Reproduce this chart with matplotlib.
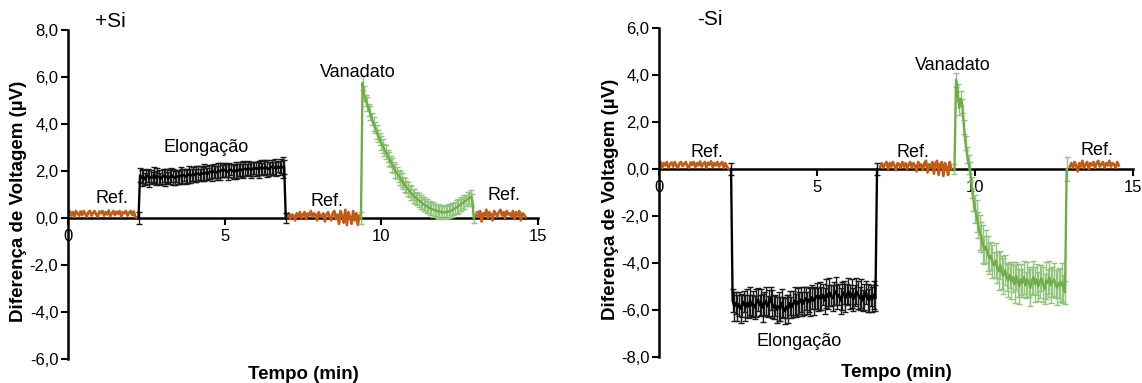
import numpy as np
import matplotlib
matplotlib.use("Agg")
import matplotlib.pyplot as plt

plt.rcParams["font.family"] = ["Liberation Sans", "DejaVu Sans"]

ORANGE = "#C55A11"
GREEN = "#70AD47"
GREEN_ERR = "#93C47D"

# ---------------- +Si panel ----------------
p_ref1 = [0.15, 0.30, 0.10, 0.25, 0.05, 0.30, 0.20, 0.10, 0.28, 0.12, 0.30, 0.18,
          0.05, 0.25, 0.30, 0.10, 0.22, 0.30, 0.15, 0.05, 0.28, 0.20, 0.30, 0.10,
          0.25, 0.15, 0.32, 0.08, 0.20, 0.30, 0.12, 0.27, 0.18, 0.30, 0.05, 0.25,
          0.20, 0.30, 0.10, 0.22, 0.30, 0.12, 0.28, 0.05, 0.02]
p_elong = [0.0,
           1.82, 1.70, 1.78, 1.65, 1.75, 1.80, 1.68, 1.76, 1.72, 1.85, 1.70, 1.78, 1.74, 1.66, 1.75,
           1.80, 1.72, 1.77, 1.69, 1.74, 1.82, 1.75, 1.70, 1.79, 1.76, 1.73, 1.81, 1.78, 1.84, 1.76,
           1.80, 1.86, 1.79, 1.83, 1.88,
           1.82, 1.87, 1.90, 1.84, 1.92, 1.88, 1.94, 1.90, 1.86, 1.95, 1.97, 1.92, 2.00, 1.96, 1.93,
           2.02, 1.98, 2.04, 1.99, 2.05,
           2.01, 1.96, 2.03, 2.06, 2.00, 1.97, 2.02, 1.99, 2.05, 2.08, 2.03, 2.07, 2.10, 2.06, 2.12,
           2.08, 2.05, 2.10, 2.14, 2.09,
           2.12, 2.07, 2.15, 2.10, 2.13, 2.17, 2.11, 2.08, 2.14, 2.18, 2.12, 2.16, 2.10, 2.19, 2.14,
           2.20, 2.15, 2.18,
           0.0]
p_elong_err = [0.25] + [0.3, 0.35, 0.3, 0.25, 0.3, 0.28, 0.35, 0.3, 0.25, 0.3] * 9 + [0.3, 0.45, 0.3] + [0.2]
p_ref2 = [0.05, 0.20, -0.05, 0.15, 0.10, -0.10, 0.20, 0.05, 0.25, 0.00, 0.15, 0.25,
          -0.05, 0.20, 0.10, 0.30, 0.05, 0.20, 0.15, -0.10, 0.25, 0.10, 0.05, 0.20,
          -0.15, 0.15, 0.25, 0.05, -0.10, 0.20, 0.30, -0.05, 0.15, -0.25, 0.30, 0.10,
          -0.20, 0.35, -0.30, 0.25, 0.05, -0.25, 0.30, -0.10, 0.20, -0.30, 0.10]
p_vana = [0.0, 5.75, 5.30, 5.00, 4.85, 4.60, 4.45, 4.20, 4.00, 3.85, 3.65, 3.50, 3.35,
          3.20, 3.05, 2.90, 2.80, 2.65, 2.50, 2.40, 2.25, 2.15, 2.00, 1.90, 1.80, 1.70,
          1.60, 1.50, 1.40, 1.32, 1.22, 1.15, 1.06, 1.00, 0.93, 0.86, 0.80, 0.75, 0.70,
          0.64, 0.58, 0.54, 0.50, 0.47, 0.42, 0.38, 0.36, 0.33, 0.31, 0.29, 0.27, 0.26,
          0.25, 0.24, 0.25, 0.26, 0.28, 0.30, 0.34, 0.37, 0.41, 0.45, 0.50, 0.55, 0.60,
          0.64, 0.70, 0.74, 0.80, 0.85, 0.90, 0.78, 0.0]
p_vana_err = [0.25, 0.3, 0.3, 0.25, 0.3, 0.25, 0.3, 0.25, 0.3, 0.25, 0.3, 0.25] * 6 + [0.2]
p_ref3 = [0.10, 0.25, 0.05, 0.30, -0.15, 0.20, 0.10, 0.35, 0.00, 0.25, 0.15, -0.10,
          0.30, 0.20, 0.05, 0.25, 0.35, 0.10, 0.25, 0.00, 0.30, 0.15, 0.20, 0.05,
          0.30, -0.05, 0.25, 0.10, 0.30, -0.10, 0.20, 0.15, 0.05]

# ---------------- -Si panel ----------------
m_ref1 = [0.10, 0.30, 0.05, 0.25, 0.15, 0.30, 0.05, 0.20, 0.28, 0.10, 0.30, 0.15,
          0.05, 0.25, 0.30, 0.12, 0.22, 0.30, 0.10, 0.05, 0.28, 0.18, 0.30, 0.08,
          0.25, 0.15, 0.32, 0.10, 0.20, 0.30, 0.05, 0.27, 0.18, 0.33, 0.08, 0.25,
          0.15, 0.30, 0.10, 0.22, 0.30, 0.05, 0.25, 0.10, 0.00]
m_elong = [0.0,
           -5.60, -5.85, -5.70, -5.90, -5.75, -5.95, -5.80, -5.65, -5.90, -5.70, -5.85, -5.60, -5.80, -5.75,
           -5.90, -5.70, -5.55, -5.80, -5.65, -5.90, -5.75, -5.60, -5.85, -5.70, -5.50, -5.75, -5.90, -5.80,
           -6.00, -5.85, -5.95, -5.70, -5.90, -6.05,
           -5.85, -5.95, -5.70, -5.90, -5.75, -5.60, -5.80, -5.65, -5.70, -5.55, -5.75, -5.60, -5.50, -5.70,
           -5.55, -5.65, -5.45, -5.60, -5.50, -5.40,
           -5.55, -5.40, -5.50, -5.35, -5.60, -5.30, -5.45, -5.25, -5.40, -5.50, -5.30, -5.20, -5.45, -5.35,
           -5.60, -5.40, -5.25, -5.50, -5.35, -5.20,
           -5.45, -5.30, -5.55, -5.40, -5.20, -5.35, -5.50, -5.30, -5.60, -5.45, -5.25, -5.50, -5.60, -5.40,
           -5.55, -5.35, -5.50,
           0.0]
m_elong_err = [0.25] + [0.5, 0.6, 0.45, 0.55, 0.5, 0.6, 0.5, 0.45, 0.55, 0.6] * 9 + [0.55] + [0.25]
m_ref2 = [0.10, 0.25, 0.05, 0.20, 0.30, 0.00, 0.25, 0.10, 0.30, 0.15, -0.05, 0.25,
          0.20, 0.05, 0.30, 0.10, 0.25, 0.00, 0.20, 0.30, 0.05, 0.25, 0.15, -0.10,
          0.30, 0.10, 0.20, -0.05, 0.25, 0.35, -0.15, 0.20, 0.05, 0.30, -0.20, 0.25,
          0.35, -0.25, 0.20, 0.30, -0.30, 0.25, 0.10, -0.25, 0.30, 0.00]
m_vana = [0.0, 3.80, 3.30, 2.60, 3.00, 2.70, 1.80, 1.10, 0.60, 0.20, -0.10, -0.80,
          -1.30, -1.70, -2.00, -2.40, -2.70, -2.90, -3.20, -3.45, -3.30, -3.60, -3.80,
          -3.70, -3.95, -4.10, -3.90, -4.20, -4.35, -4.10, -4.40, -4.55, -4.30, -4.60,
          -4.75, -4.50, -4.80, -4.60, -4.90, -4.55, -4.75, -5.00, -4.70, -4.85, -4.60,
          -4.95, -4.70, -4.80, -5.05, -4.75, -4.60, -4.90, -4.70, -5.00, -4.80, -4.65,
          -4.90, -5.10, -4.75, -4.85, -4.60, -4.95, -4.80, -4.70, -4.90, -5.05, -4.85,
          -4.95, -4.80, -5.10, -5.25, 0.0]
m_vana_err = [0.2, 0.3, 0.3, 0.3, 0.3, 0.3, 0.3, 0.3, 0.35, 0.4, 0.4, 0.45, 0.5] + \
             [0.6, 0.7, 0.55, 0.75, 0.65, 0.8, 0.6, 0.7, 0.75, 0.65] * 5 + \
             [0.7, 0.6, 0.75, 0.65, 0.7, 0.8, 0.6, 0.5, 0.5]
m_ref3 = [0.10, 0.25, 0.05, 0.30, 0.15, -0.10, 0.25, 0.10, 0.35, 0.05, 0.20, 0.30,
          0.00, 0.25, 0.15, 0.30, 0.05, 0.25, 0.35, 0.10, 0.20, 0.30, 0.05, 0.25,
          0.15, 0.35, 0.10, 0.25, 0.20, 0.05, 0.30, 0.15]

panels = [
    dict(ref=[(0.0, 2.2, p_ref1), (7.0, 9.3, p_ref2), (13.0, 14.6, p_ref3)],
         elong=(2.25, 6.95, p_elong, p_elong_err),
         vana=(9.35, 12.95, p_vana, p_vana_err),
         ylim=(-6, 8), box=(68, 24, 470, 329), title="+Si", title_xy=(0.85, 8.35),
         ylab_x=-0.087,
         labels=[("Ref.", 1.4, 0.85), ("Elongação", 4.4, 3.0), ("Ref.", 8.25, 0.7),
                 ("Vanadato", 9.25, 6.2), ("Ref.", 13.9, 0.95)]),
    dict(ref=[(0.0, 2.2, m_ref1), (7.0, 9.25, m_ref2), (13.0, 14.55, m_ref3)],
         elong=(2.28, 6.9, m_elong, m_elong_err),
         vana=(9.35, 12.9, m_vana, m_vana_err),
         ylim=(-8, 6), box=(659, 26, 474, 329), title="-Si", title_xy=(1.2, 6.35),
         ylab_x=-0.084,
         labels=[("Ref.", 1.52, 0.72), ("Ref.", 8.05, 0.7), ("Vanadato", 9.3, 4.4),
                 ("Ref.", 13.85, 0.8), ("Elongação", 4.45, -7.35)]),
]

W, H = 1142, 383
fig = plt.figure(figsize=(W / 100, H / 100), dpi=100)

for p in panels:
    x0, y0, w, h = p["box"]
    ax = fig.add_axes([x0 / W, y0 / H, w / W, h / H])

    for a, b, vals in p["ref"]:
        ax.plot(np.linspace(a, b, len(vals)), vals, color=ORANGE, lw=1.9, zorder=2)

    a, b, vals, err = p["elong"]
    ax.errorbar(np.linspace(a, b, len(vals)), vals, yerr=err, color="black", lw=1.7,
                ecolor="#1a1a1a", elinewidth=1.0, capsize=2.5, capthick=1.0, zorder=3)

    a, b, vals, err = p["vana"]
    ax.errorbar(np.linspace(a, b, len(vals)), vals, yerr=err, color=GREEN, lw=1.7,
                ecolor=GREEN_ERR, elinewidth=1.0, capsize=2.5, capthick=1.0, zorder=3)

    ax.set_xlim(0, 15)
    ax.set_ylim(*p["ylim"])
    ax.set_yticks(np.arange(p["ylim"][0], p["ylim"][1] + 1, 2))
    ax.set_yticklabels([f"{v:.1f}".replace(".", ",") for v in ax.get_yticks()])
    ax.set_xticks([0, 5, 10, 15])
    ax.set_xticklabels(["0", "5", "10", "15"])
    ax.tick_params(axis="both", labelsize=12, length=5, width=1.5, direction="out")
    ax.tick_params(axis="x", pad=3)
    ax.tick_params(axis="y", pad=2)

    for s in ["top", "right"]:
        ax.spines[s].set_visible(False)
    ax.spines["bottom"].set_position(("data", 0))
    ax.spines["bottom"].set_linewidth(1.8)
    ax.spines["bottom"].set_zorder(1)
    ax.spines["left"].set_linewidth(1.8)

    ax.set_ylabel("Diferença de Voltagem (µV)", fontsize=13.5, fontweight="bold")
    ax.yaxis.set_label_coords(p["ylab_x"], 0.48)
    ax.set_xlabel("Tempo (min)", fontsize=13.5, fontweight="bold")
    ax.xaxis.set_label_coords(0.5, -0.02)

    ax.text(*p["title_xy"], p["title"], fontsize=15, ha="left", va="center")
    for txt, tx, ty in p["labels"]:
        ax.text(tx, ty, txt, fontsize=13, ha="center", va="center")

fig.savefig("out.png", dpi=100)
